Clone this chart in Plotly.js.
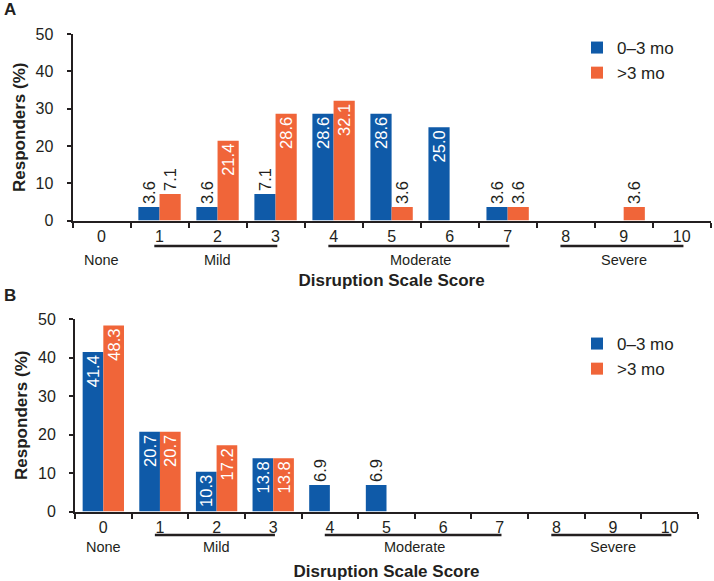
<!DOCTYPE html>
<html>
<head>
<meta charset="utf-8">
<script src="https://cdn.plot.ly/plotly-3.0.1.min.js"></script>
<style>html,body{margin:0;padding:0;background:#fff;}#chart{width:714px;height:581px;}</style>
</head>
<body>
<div id="chart"></div>
<script>
// ---- data ----
const categories = ['0','1','2','3','4','5','6','7','8','9','10'];
const seriesNames = ['0\u20133 mo', '>3 mo'];
const panelA_early = [0, 3.6, 3.6, 7.1, 28.6, 28.6, 25.0, 3.6, 0, 0, 0];
const panelA_late  = [0, 7.1, 21.4, 28.6, 32.1, 3.6, 0, 3.6, 0, 3.6, 0];
const panelB_early = [41.4, 20.7, 10.3, 13.8, 6.9, 6.9, 0, 0, 0, 0, 0];
const panelB_late  = [48.3, 20.7, 17.2, 13.8, 0, 0, 0, 0, 0, 0, 0];
const groupLabels = ['None', 'Mild', 'Moderate', 'Severe'];
const groupFirst  = [0, 1, 4, 8];
const groupLast   = [0, 3, 7, 10];
const panelLabels = ['A', 'B'];
const xTitle = 'Disruption Scale Score';
const yTitle = 'Responders (%)';

// ---- styling ----
const W = 714, H = 581;
const BLUE = '#0f5aa8', ORANGE = '#f06539', INK = '#231f20';
const py = p => 1 - p / H;
const px = p => p / W;

function barTrace(vals, name, color, xa, ya, legend) {
  return {
    type: 'bar', x: categories, y: vals, name: name, xaxis: xa, yaxis: ya, legend: legend,
    marker: {color: color, line: {width: 0}},
    text: vals.map(v => v > 0 ? v.toFixed(1) : ''),
    textposition: vals.map(v => v >= 10 ? 'inside' : 'outside'),
    textangle: -90,
    insidetextanchor: 'end',
    constraintext: 'none',
    cliponaxis: false,
    insidetextfont: {color: '#ffffff', size: 16.5},
    outsidetextfont: {color: INK, size: 16.5},
    hoverinfo: 'x+y+name'
  };
}

const data = [
  barTrace(panelA_early, seriesNames[0], BLUE, 'x', 'y', 'legend'),
  barTrace(panelA_late, seriesNames[1], ORANGE, 'x', 'y', 'legend'),
  barTrace(panelB_early, seriesNames[0], BLUE, 'x2', 'y2', 'legend2'),
  barTrace(panelB_late, seriesNames[1], ORANGE, 'x2', 'y2', 'legend2')
];

function xAxis(domain, anchor) {
  return {
    domain: domain, anchor: anchor, type: 'category',
    categoryorder: 'array', categoryarray: categories,
    tickson: 'boundaries', ticks: 'outside', ticklen: 5, tickwidth: 2, tickcolor: INK,
    showline: true, linewidth: 2, linecolor: INK, showgrid: false, zeroline: false,
    tickfont: {size: 16, color: INK},
    title: {text: xTitle, font: {size: 17, weight: 700, color: INK}, standoff: 30},
    fixedrange: true
  };
}
function yAxis(domain, anchor) {
  return {
    domain: domain, anchor: anchor, range: [0, 50], tick0: 0, dtick: 10,
    ticks: 'outside', ticklen: 4, tickwidth: 2, tickcolor: INK,
    showline: true, linewidth: 2, linecolor: INK, showgrid: false, zeroline: false,
    tickfont: {size: 16, color: INK}, ticklabelstandoff: 10,
    title: {text: yTitle, font: {size: 17, weight: 700, color: INK}, standoff: 6},
    fixedrange: true
  };
}

// panel geometry (pixels)
const panels = [
  {xa: 'x', ya: 'y', x0: 72.5, x1: 710.7, yTop: 34, yBot: 220.5, lineY: 246, labY: 260, legY: 30, tagY: 10},
  {xa: 'x2', ya: 'y2', x0: 75, x1: 698, yTop: 319, yBot: 511.5, lineY: 535, labY: 547, legY: 326, tagY: 295}
];

const shapes = [], annotations = [];
panels.forEach((p, k) => {
  groupLabels.forEach((g, i) => {
    const a = groupFirst[i], b = groupLast[i];
    if (b > a) {
      shapes.push({type: 'line', xref: p.xa, yref: 'paper', x0: a - 0.09, x1: b + 0.03,
        y0: py(p.lineY), y1: py(p.lineY), line: {color: INK, width: 2.5}});
    }
    annotations.push({xref: p.xa, yref: 'paper', x: (a + b) / 2, y: py(p.labY), text: g,
      showarrow: false, xanchor: 'center', yanchor: 'middle', font: {size: 14.5, color: INK}});
  });
  annotations.push({xref: 'paper', yref: 'paper', x: px(2), y: py(p.tagY), text: panelLabels[k],
    showarrow: false, xanchor: 'left', yanchor: 'middle', font: {size: 17, weight: 700, color: INK}});
});

const layout = {
  width: W, height: H, margin: {l: 0, r: 0, t: 0, b: 0},
  paper_bgcolor: '#ffffff', plot_bgcolor: '#ffffff',
  font: {family: 'Liberation Sans, Arial, sans-serif', color: INK, size: 16},
  barmode: 'group', bargap: 0.27, bargroupgap: 0,
  xaxis: xAxis([px(panels[0].x0), px(panels[0].x1)], 'y'),
  yaxis: yAxis([py(panels[0].yBot), py(panels[0].yTop)], 'x'),
  xaxis2: xAxis([px(panels[1].x0), px(panels[1].x1)], 'y2'),
  yaxis2: yAxis([py(panels[1].yBot), py(panels[1].yTop)], 'x2'),
  legend: {x: px(577), y: py(panels[0].legY), xanchor: 'left', yanchor: 'top',
    font: {size: 17, color: INK}, bgcolor: 'rgba(0,0,0,0)'},
  legend2: {x: px(577), y: py(panels[1].legY), xanchor: 'left', yanchor: 'top',
    font: {size: 17, color: INK}, bgcolor: 'rgba(0,0,0,0)'},
  showlegend: true,
  shapes: shapes,
  annotations: annotations
};

Plotly.newPlot('chart', data, layout, {displayModeBar: false, staticPlot: true});
</script>
</body>
</html>
